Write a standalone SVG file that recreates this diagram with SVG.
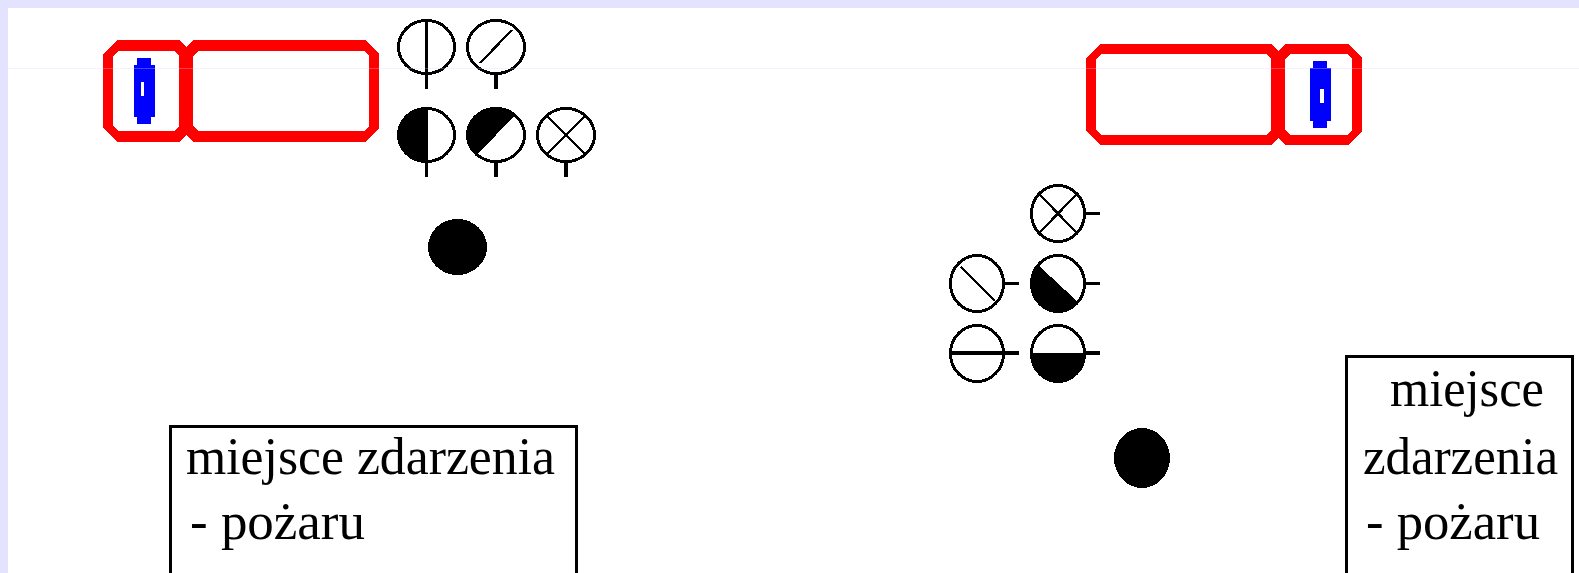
<svg xmlns="http://www.w3.org/2000/svg" width="1579" height="573" viewBox="0 0 1579 573">
<style>
path,rect,ellipse{shape-rendering:crispEdges}
.red{fill:#ff0000;fill-rule:evenodd}
.blue{fill:#0000ff}
.lamp{fill:#fff;stroke:#000;stroke-width:3}
.ln{fill:none;stroke:#000;stroke-width:3}
.dg{fill:none;stroke:#000;stroke-width:2.300}
.st{fill:none;stroke:#000;stroke-width:4}
.blk{fill:#000}
.box{fill:#fff;stroke:#000;stroke-width:3}
text{font-family:"Liberation Serif","Times New Roman",serif;font-size:52px;fill:#000}
</style>
<rect width="1579" height="573" fill="#e3e3ff"/>
<rect x="8" y="8" width="1571" height="565" fill="#fff"/>
<g id="pojazd-lewy">
<path class="red" d="M117 40H179L193 54V128L179 142H117L103 128V54ZM118 51L113 56V126L118 131H174L179 126V56L174 51Z"/>
<path class="red" d="M193 40H365L379 54V128L365 142H193L179 128V54ZM198 51L193 56V126L198 131H364L369 126V56L364 51Z"/>
<path class="blue" d="M137 58h14v7h4v52h-4v7h-14v-7h-3v-52h3z"/>
<rect x="141" y="82" width="3" height="14" fill="#fff"/>
</g>
<g id="pojazd-prawy">
<path class="red" d="M1100 44H1271L1285 58V131L1271 145H1100L1086 131V58ZM1101 54L1096 59V130L1101 135H1266L1271 130V59L1266 54Z"/>
<path class="red" d="M1285 44H1348L1362 58V131L1348 145H1285L1271 131V58ZM1290 54L1285 59V130L1290 135H1347L1352 130V59L1347 54Z"/>
<path class="blue" d="M1313 61h14v7h4v53h-4v7h-14v-7h-3v-53h3z"/>
<rect x="1320" y="89" width="4" height="14" fill="#fff"/>
</g>
<g id="s1"><ellipse class="lamp" cx="426.500" cy="47" rx="28" ry="26.500"/><path class="ln" d="M426.500 19V89"/></g>
<g id="s2"><ellipse class="lamp" cx="496" cy="47" rx="28.500" ry="26.500"/><path class="dg" d="M512 30L480 63"/><path class="st" d="M496 73V89"/></g>
<g id="s3"><ellipse class="lamp" cx="426.500" cy="135" rx="28" ry="26.500"/><path class="blk" d="M428 107A29.500 28 0 0 0 428 163Z"/><path class="ln" d="M426.500 161V177"/></g>
<g id="s4"><ellipse class="lamp" cx="496" cy="135" rx="28.500" ry="26.500"/><path class="blk" d="M516 114A30 28 0 0 0 476 156Z"/><path class="st" d="M496 161V177"/></g>
<g id="s5"><ellipse class="lamp" cx="566" cy="135" rx="28.500" ry="26.500"/><path class="dg" d="M546 115L586 155M586 115L546 155"/><path class="st" d="M566 161V177"/></g>
<ellipse id="m1" class="blk" cx="457.500" cy="247" rx="29.500" ry="28"/>
<g id="s6"><ellipse class="lamp" cx="1058" cy="213.500" rx="26.500" ry="28"/><path class="dg" d="M1038 193L1078 234M1078 193L1038 234"/><path class="ln" d="M1085 213.500H1100"/></g>
<g id="s7"><ellipse class="lamp" cx="977" cy="283.500" rx="26.500" ry="28"/><path class="dg" d="M961 267L995 301"/><path class="ln" d="M1004 283.500H1019"/></g>
<g id="s8"><ellipse class="lamp" cx="1058" cy="283.500" rx="26.500" ry="28"/><path class="blk" d="M1037 264L1079 303A28 29.500 0 0 1 1037 264Z"/><path class="ln" d="M1085 283.500H1100"/></g>
<g id="s9"><ellipse class="lamp" cx="977" cy="353.500" rx="26.500" ry="28"/><path class="st" d="M949 353H1019"/></g>
<g id="s10"><ellipse class="lamp" cx="1058" cy="353.500" rx="26.500" ry="28"/><path class="blk" d="M1030 353H1086A28 30 0 0 1 1030 353Z"/><path class="st" d="M1084 353H1100"/></g>
<ellipse id="m2" class="blk" cx="1142" cy="458" rx="28" ry="30"/>
<g id="opis-lewy">
<rect class="box" x="170.500" y="426.500" width="406" height="160"/>
<text x="186" y="474" textLength="369" lengthAdjust="spacingAndGlyphs">miejsce zdarzenia</text>
<text x="190" y="539" textLength="175" lengthAdjust="spacingAndGlyphs">- pożaru</text>
</g>
<g id="opis-prawy">
<rect class="box" x="1346.500" y="356.500" width="226" height="230"/>
<text x="1390" y="406" textLength="154" lengthAdjust="spacingAndGlyphs">miejsce</text>
<text x="1363" y="474" textLength="195" lengthAdjust="spacingAndGlyphs">zdarzenia</text>
<text x="1366" y="539" textLength="174" lengthAdjust="spacingAndGlyphs">- pożaru</text>
</g>
<path d="M8 68.500H1579" stroke="#d8d8ff" stroke-opacity=".3" stroke-width="1"/>
</svg>
